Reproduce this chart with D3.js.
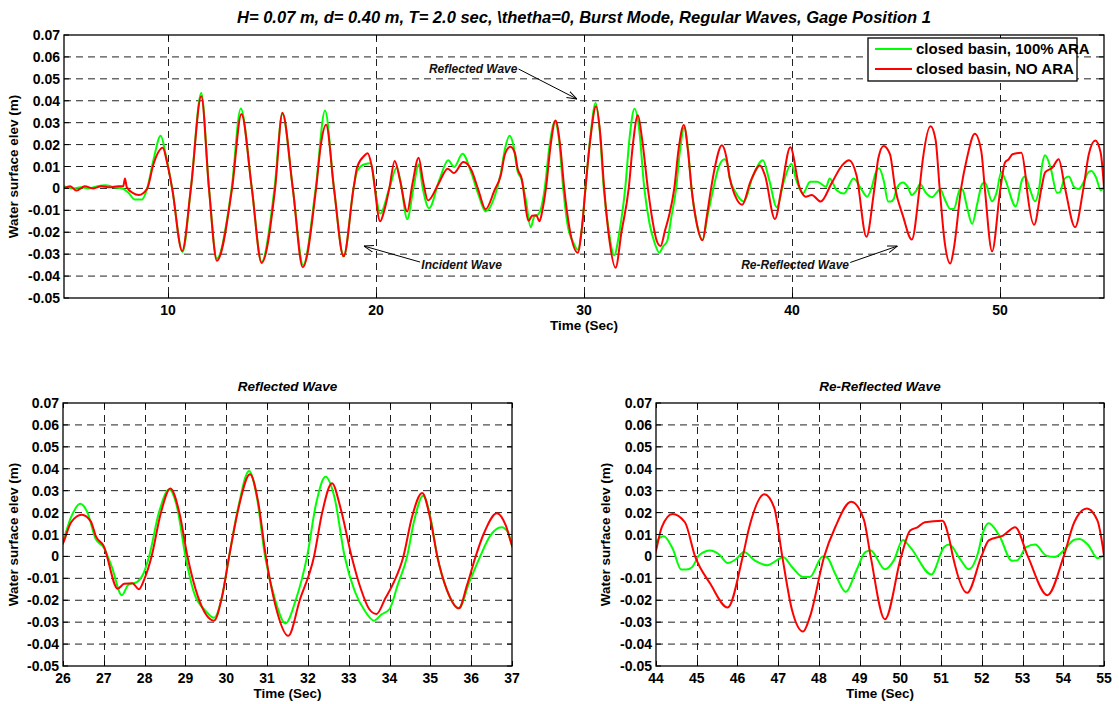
<!DOCTYPE html>
<html>
<head>
<meta charset="utf-8">
<script src="https://cdn.jsdelivr.net/npm/d3@7"></script>
<style>
  body { margin: 0; background: #fff; }
  text { font-family: "Liberation Sans", Arial, sans-serif; }
</style>
</head>
<body>
<div id="wrapper"></div>
<script>
// gauge record, [time (s), elevation (m)]
const greenWave = [
  [5.0, 0.001], [5.4, 0.0], [5.8, 0.0005], [6.2, 0.0], [6.6, 0.001], [7.0, 0.0015],
  [7.4, 0.0005], [7.8, 0.0], [8.1, -0.002], [8.4, -0.005], [8.75, -0.005], [9.0, 0.0],
  [9.3, 0.013], [9.65, 0.024], [9.9, 0.015], [10.2, 0.0], [10.7, -0.029], [11.1, 0.0],
  [11.6, 0.0435], [11.97, 0.0], [12.35, -0.032], [13.06, 0.0], [13.5, 0.0365], [14.03, 0.0],
  [14.5, -0.0335], [15.12, 0.0], [15.5, 0.034], [16.0, 0.0], [16.5, -0.035], [17.1, 0.0],
  [17.55, 0.0355], [17.98, 0.0], [18.45, -0.031], [18.92, 0.0], [19.1, 0.008], [19.45, 0.011],
  [19.75, 0.0115], [19.95, 0.0], [20.2, -0.0115], [20.64, 0.0], [21.0, 0.0095], [21.2, 0.002],
  [21.5, -0.014], [21.8, 0.0], [22.05, 0.011], [22.25, 0.0], [22.55, -0.009], [23.05, 0.004],
  [23.47, 0.0128], [23.76, 0.0098], [24.16, 0.0158], [24.59, 0.0068], [24.93, -0.003],
  [25.27, -0.0105], [25.7, -0.0038], [26.0, 0.007], [26.2, 0.018], [26.42, 0.024], [26.6, 0.02],
  [26.8, 0.008], [27.0, 0.004], [27.2, -0.005], [27.44, -0.0177], [27.6, -0.013], [27.82, -0.0116],
  [27.95, -0.0086], [28.11, 0.0], [28.35, 0.02], [28.6, 0.0305], [28.8, 0.022], [29.0, 0.0],
  [29.2, -0.016], [29.5, -0.025], [29.7, -0.028], [29.9, -0.018], [30.07, 0.0], [30.3, 0.023],
  [30.56, 0.039], [30.75, 0.027], [30.95, 0.0], [31.2, -0.02], [31.45, -0.0306], [31.7, -0.02],
  [31.98, 0.0], [32.2, 0.024], [32.43, 0.0363], [32.65, 0.027], [32.9, 0.0], [33.15, -0.016],
  [33.4, -0.025], [33.62, -0.0293], [33.8, -0.0265], [34.0, -0.024], [34.2, -0.013], [34.43, 0.0],
  [34.6, 0.016], [34.82, 0.0277], [35.0, 0.018], [35.17, 0.0], [35.4, -0.015], [35.7, -0.0235],
  [35.95, -0.012], [36.22, 0.0], [36.45, 0.009], [36.75, 0.0133], [36.9, 0.011], [37.0, 0.005],
  [37.3, -0.002], [37.69, -0.006], [38.1, 0.005], [38.6, 0.0128], [38.9, 0.004], [39.27, -0.0086],
  [39.6, 0.003], [39.97, 0.0113], [40.2, 0.004], [40.52, -0.0023], [40.87, 0.003], [41.21, 0.003],
  [41.64, 0.0008], [41.81, 0.0045], [42.15, -0.0008], [42.5, -0.0023], [42.96, 0.0045],
  [43.36, -0.0008], [43.61, -0.0038], [43.85, 0.001], [44.0, 0.0065], [44.19, 0.0092],
  [44.41, 0.0035], [44.62, -0.006], [44.75, -0.006], [44.89, -0.0048], [45.06, 0.0005],
  [45.33, 0.0027], [45.55, 0.0009], [45.76, -0.003], [45.98, -0.001], [46.16, 0.002],
  [46.42, -0.0018], [46.73, -0.004], [46.99, -0.0015], [47.12, -0.0003], [47.34, -0.0048],
  [47.61, -0.0094], [47.78, -0.0094], [48.09, 0.0], [48.2, -0.0005], [48.4, -0.0079],
  [48.66, -0.0162], [48.92, -0.0064], [49.14, 0.002], [49.27, 0.0027], [49.62, -0.0059],
  [49.84, -0.0018], [50.06, 0.0075], [50.25, 0.004], [50.76, -0.0082], [51.07, 0.0042],
  [51.2, 0.0054], [51.46, -0.001], [51.68, -0.0059], [51.9, 0.0012], [52.03, 0.011],
  [52.17, 0.0151], [52.43, 0.0095], [52.74, -0.002], [52.87, -0.0018], [53.09, 0.0042],
  [53.31, 0.0054], [53.57, 0.0005], [53.79, -0.0003], [54.01, 0.0027], [54.27, 0.0076],
  [54.4, 0.008], [54.62, 0.005], [54.84, -0.0008], [55.0, 0.0005],
];

const redWave = [
  [5.0, 0.0], [5.3, 0.001], [5.6, -0.001], [6.0, 0.001], [6.4, 0.0], [6.8, 0.001], [7.2, 0.0005],
  [7.6, 0.001], [7.85, 0.001], [7.93, 0.0045], [8.02, 0.0005], [8.3, -0.002], [8.6, -0.003],
  [9.0, 0.0], [9.3, 0.011], [9.75, 0.0185], [9.95, 0.012], [10.2, 0.0], [10.68, -0.0285],
  [11.1, 0.0], [11.6, 0.042], [11.97, 0.0], [12.35, -0.033], [13.08, 0.0], [13.53, 0.034],
  [14.03, 0.0], [14.5, -0.034], [15.15, 0.0], [15.5, 0.0345], [16.0, 0.0], [16.48, -0.036],
  [17.12, 0.0], [17.35, 0.02], [17.6, 0.029], [17.98, 0.0], [18.44, -0.031], [18.92, 0.0],
  [19.1, 0.01], [19.45, 0.015], [19.6, 0.016], [19.8, 0.01], [20.2, -0.015], [20.4, -0.01],
  [20.64, 0.0], [20.9, 0.0125], [21.15, 0.004], [21.5, -0.0105], [21.75, 0.002], [22.05, 0.014],
  [22.25, 0.004], [22.5, -0.0055], [23.0, 0.002], [23.45, 0.009], [23.75, 0.007], [24.2, 0.012],
  [24.59, 0.0083], [24.93, -0.001], [25.27, -0.0095], [25.7, -0.0008], [26.0, 0.006],
  [26.2, 0.0156], [26.46, 0.019], [26.68, 0.016], [26.81, 0.009], [26.99, 0.005], [27.34, -0.0147],
  [27.5, -0.0125], [27.7, -0.0122], [27.86, -0.015], [28.0, -0.01], [28.17, 0.0], [28.4, 0.02],
  [28.63, 0.031], [28.85, 0.02], [29.05, 0.0], [29.3, -0.018], [29.7, -0.0293], [29.9, -0.018],
  [30.07, 0.0], [30.3, 0.022], [30.58, 0.0375], [30.78, 0.025], [30.97, 0.0], [31.2, -0.022],
  [31.52, -0.0362], [31.8, -0.02], [32.15, 0.0], [32.35, 0.02], [32.59, 0.0334], [32.8, 0.022],
  [33.07, 0.0], [33.3, -0.015], [33.5, -0.024], [33.68, -0.0263], [33.9, -0.019], [34.1, -0.012],
  [34.34, 0.0], [34.55, 0.018], [34.8, 0.0289], [35.0, 0.017], [35.17, 0.0], [35.4, -0.015],
  [35.7, -0.0237], [35.9, -0.013], [36.11, 0.0], [36.3, 0.01], [36.63, 0.0197], [36.85, 0.014],
  [37.0, 0.005], [37.25, -0.003], [37.6, -0.0075], [38.0, 0.003], [38.46, 0.0105], [38.7, 0.006],
  [39.18, -0.014], [39.5, 0.0], [39.92, 0.0188], [40.35, 0.0008], [40.66, -0.0038], [40.95, -0.003],
  [41.38, -0.006], [41.9, 0.0023], [42.41, 0.0105], [42.75, 0.0128], [43.1, 0.006], [43.58, -0.0221],
  [43.92, -0.003], [44.0, 0.0027], [44.14, 0.0133], [44.405, 0.0194], [44.71, 0.0156], [44.96, 0.0],
  [45.33, -0.0124], [45.76, -0.0233], [46.13, 0.0], [46.29, 0.0133], [46.66, 0.0284], [46.9, 0.0224],
  [47.1, 0.0], [47.34, -0.0245], [47.61, -0.0343], [47.78, -0.0275], [48.13, 0.0], [48.4, 0.0133],
  [48.79, 0.025], [49.1, 0.017], [49.27, 0.0], [49.62, -0.0287], [50.02, 0.0], [50.24, 0.0118],
  [50.42, 0.0133], [50.6, 0.0156], [51.03, 0.0163], [51.2, 0.008], [51.29, 0.0], [51.64, -0.0166],
  [51.99, 0.0], [52.17, 0.0073], [52.52, 0.0095], [52.82, 0.0133], [53.13, 0.0], [53.61, -0.0177],
  [54.01, 0.0], [54.27, 0.0156], [54.58, 0.0219], [54.84, 0.0163], [55.0, 0.0005],
];

const seriesNames = ["closed basin, 100% ARA", "closed basin, NO ARA"];
const seriesColors = ["#00ff00", "#ff0000"];

const yTicks = [-0.05, -0.04, -0.03, -0.02, -0.01, 0, 0.01, 0.02, 0.03, 0.04, 0.05, 0.06, 0.07];
const yTickLabels = ["-0.05", "-0.04", "-0.03", "-0.02", "-0.01", "0", "0.01", "0.02", "0.03", "0.04", "0.05", "0.06", "0.07"];
const topTimeTicks = [10, 20, 30, 40, 50];
const reflectedTicks = [26, 27, 28, 29, 30, 31, 32, 33, 34, 35, 36, 37];
const reReflectedTicks = [44, 45, 46, 47, 48, 49, 50, 51, 52, 53, 54, 55];

const mainTitle = "H= 0.07 m, d= 0.40 m, T= 2.0 sec, \\thetha=0, Burst Mode, Regular Waves, Gage Position 1";

// label, text point, arrow tail, arrow tip (data units of the top panel)
const annotations = [
  { text: "Reflected Wave", anchor: "end", at: [26.8, 0.0545], from: [26.85, 0.0545], to: [29.66, 0.0408] },
  { text: "Incident Wave", anchor: "start", at: [22.18, -0.035], from: [22.12, -0.0336], to: [19.42, -0.0263] },
  { text: "Re-Reflected Wave", anchor: "end", at: [42.74, -0.035], from: [42.8, -0.0338], to: [45.07, -0.0263] },
];

function drawChart() {
  const width = 1119;
  const height = 704;
  const tickSize = 14;
  const labelSize = 13.5;

  const svg = d3
    .select("#wrapper")
    .append("svg")
    .attr("width", width)
    .attr("height", height);

  svg
    .append("defs")
    .append("marker")
    .attr("id", "arrow")
    .attr("viewBox", "0 -5 10 10")
    .attr("refX", 10)
    .attr("refY", 0)
    .attr("markerWidth", 10)
    .attr("markerHeight", 10)
    .attr("markerUnits", "userSpaceOnUse")
    .attr("orient", "auto")
    .append("path")
    .attr("d", "M0,-3.5L10,0L0,3.5")
    .attr("fill", "none")
    .attr("stroke", "#000")
    .attr("stroke-width", 1);

  function drawPanel(p) {
    const x = d3.scaleLinear().domain(p.domain).range([p.left, p.right]);
    const y = d3.scaleLinear().domain([-0.05, 0.07]).range([p.bottom, p.top]);
    const g = svg.append("g");

    g.append("rect")
      .attr("x", p.left)
      .attr("y", p.top)
      .attr("width", p.right - p.left)
      .attr("height", p.bottom - p.top)
      .attr("fill", "#fff");

    // grid
    const grid = g
      .append("g")
      .attr("stroke", "#222")
      .attr("stroke-width", 1)
      .attr("stroke-dasharray", "7,5");
    p.ticks
      .filter((t) => t > p.domain[0] && t < p.domain[1])
      .forEach((t) => {
        grid
          .append("line")
          .attr("x1", Math.round(x(t)) + 0.5)
          .attr("x2", Math.round(x(t)) + 0.5)
          .attr("y1", p.top)
          .attr("y2", p.bottom);
      });
    yTicks.slice(1, -1).forEach((v) => {
      grid
        .append("line")
        .attr("x1", p.left)
        .attr("x2", p.right)
        .attr("y1", y(v))
        .attr("y2", y(v));
    });

    // curves
    const clipId = "clip" + p.id;
    svg
      .select("defs")
      .append("clipPath")
      .attr("id", clipId)
      .append("rect")
      .attr("x", p.left)
      .attr("y", p.top)
      .attr("width", p.right - p.left)
      .attr("height", p.bottom - p.top);

    const line = d3
      .line()
      .x((d) => x(d[0]))
      .y((d) => y(d[1]))
      .curve(d3.curveMonotoneX);

    const curves = g.append("g").attr("clip-path", `url(#${clipId})`);
    [greenWave, redWave].forEach((wave, i) => {
      curves
        .append("path")
        .attr("d", line(wave))
        .attr("fill", "none")
        .attr("stroke", seriesColors[i])
        .attr("stroke-width", 2)
        .attr("stroke-linejoin", "round");
    });

    // inner ticks on all four sides
    const ticks = g.append("g").attr("stroke", "#000").attr("stroke-width", 1);
    p.ticks.forEach((t) => {
      const xx = Math.round(x(t)) + 0.5;
      ticks.append("line").attr("x1", xx).attr("x2", xx).attr("y1", p.bottom).attr("y2", p.bottom - 5);
      ticks.append("line").attr("x1", xx).attr("x2", xx).attr("y1", p.top).attr("y2", p.top + 5);
    });
    yTicks.forEach((v) => {
      ticks.append("line").attr("x1", p.left).attr("x2", p.left + 5).attr("y1", y(v)).attr("y2", y(v));
      ticks.append("line").attr("x1", p.right).attr("x2", p.right - 5).attr("y1", y(v)).attr("y2", y(v));
    });

    g.append("rect")
      .attr("x", p.left)
      .attr("y", p.top)
      .attr("width", p.right - p.left)
      .attr("height", p.bottom - p.top)
      .attr("fill", "none")
      .attr("stroke", "#000")
      .attr("stroke-width", 1.3);

    // tick labels
    const labels = g
      .append("g")
      .attr("font-size", tickSize)
      .attr("font-weight", "bold")
      .attr("fill", "#000");
    yTicks.forEach((v, i) => {
      labels
        .append("text")
        .attr("x", p.left - 4)
        .attr("y", y(v))
        .attr("dy", "0.36em")
        .attr("text-anchor", "end")
        .text(yTickLabels[i]);
    });
    p.ticks.forEach((t) => {
      labels
        .append("text")
        .attr("x", x(t))
        .attr("y", p.bottom + 17)
        .attr("text-anchor", "middle")
        .text(t);
    });

    labels
      .append("text")
      .attr("x", (p.left + p.right) / 2)
      .attr("y", p.bottom + 32)
      .attr("text-anchor", "middle")
      .attr("font-size", labelSize)
      .text("Time (Sec)");

    labels
      .append("text")
      .attr("transform", `translate(${p.yLabelX}, ${(p.top + p.bottom) / 2}) rotate(-90)`)
      .attr("text-anchor", "middle")
      .attr("font-size", labelSize)
      .text("Water surface elev (m)");

    g.append("text")
      .attr("x", (p.left + p.right) / 2)
      .attr("y", p.top - 12)
      .attr("text-anchor", "middle")
      .attr("font-size", p.titleSize)
      .attr("font-weight", "bold")
      .attr("font-style", "italic")
      .text(p.title);

    return { x, y, g };
  }

  const topPanel = drawPanel({
    id: "top",
    left: 64, right: 1104, top: 35, bottom: 298,
    domain: [5, 55], ticks: topTimeTicks,
    yLabelX: 18, title: mainTitle, titleSize: 16.5,
  });
  drawPanel({
    id: "refl",
    left: 63, right: 512, top: 403, bottom: 666,
    domain: [26, 37], ticks: reflectedTicks,
    yLabelX: 18, title: "Reflected Wave", titleSize: labelSize,
  });
  drawPanel({
    id: "rerefl",
    left: 656, right: 1104, top: 403, bottom: 666,
    domain: [44, 55], ticks: reReflectedTicks,
    yLabelX: 610, title: "Re-Reflected Wave", titleSize: labelSize,
  });

  function drawAnnotations() {
    const { x, y, g } = topPanel;
    annotations.forEach((a) => {
      g.append("line")
        .attr("x1", x(a.from[0]))
        .attr("y1", y(a.from[1]))
        .attr("x2", x(a.to[0]))
        .attr("y2", y(a.to[1]))
        .attr("stroke", "#000")
        .attr("stroke-width", 1)
        .attr("marker-end", "url(#arrow)");
      g.append("text")
        .attr("x", x(a.at[0]))
        .attr("y", y(a.at[1]))
        .attr("dy", "0.35em")
        .attr("text-anchor", a.anchor)
        .attr("font-size", 12)
        .attr("font-weight", "bold")
        .attr("font-style", "italic")
        .attr("fill", "#111")
        .text(a.text);
    });
  }
  drawAnnotations();

  function drawLegend() {
    const legend = svg.append("g").attr("transform", "translate(868, 38)");
    legend
      .append("rect")
      .attr("width", 209)
      .attr("height", 43)
      .attr("fill", "#fff")
      .attr("stroke", "#000")
      .attr("stroke-width", 1.3);
    const item = legend
      .selectAll("g")
      .data(seriesNames)
      .join("g")
      .attr("transform", (d, i) => `translate(0, ${11 + 20 * i})`);
    item
      .append("line")
      .attr("x1", 7)
      .attr("x2", 44)
      .attr("stroke", (d, i) => seriesColors[i])
      .attr("stroke-width", 2);
    item
      .append("text")
      .attr("x", 48)
      .attr("dy", "0.36em")
      .attr("font-size", 15)
      .attr("font-weight", "bold")
      .text((d) => d);
  }
  drawLegend();
}

drawChart();
</script>
</body>
</html>
